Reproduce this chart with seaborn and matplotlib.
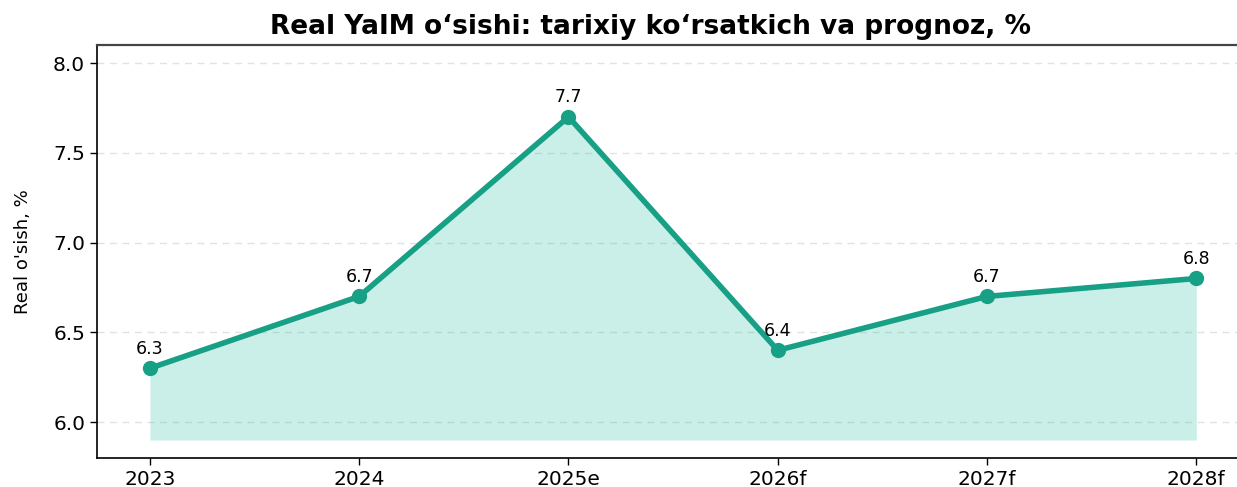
import matplotlib
matplotlib.use("Agg")
import matplotlib.pyplot as plt
import seaborn as sns
import pandas as pd

categories = ["2023", "2024", "2025e", "2026f", "2027f", "2028f"]
growth = [6.3, 6.7, 7.7, 6.4, 6.7, 6.8]
fill_base = 5.9

plt.rcdefaults()
plt.rcParams["font.family"] = ["DejaVu Sans"]

df = pd.DataFrame({"pos": range(len(categories)), "growth": growth})

fig = plt.figure(figsize=(12.37, 4.87), dpi=100)
ax = fig.add_axes([0.0784, 0.0595, 0.931, 0.848])

line_color = "#17a085"
ax.fill_between(df["pos"], fill_base, df["growth"], color="#1abc9c", alpha=0.23, linewidth=0)
sns.lineplot(data=df, x="pos", y="growth", ax=ax, color=line_color, linewidth=4,
             marker="o", markersize=11, markeredgewidth=0)

for x, y in zip(df["pos"], df["growth"]):
    ax.annotate(f"{y:.1f}", (x, y), xytext=(0, 7.5), textcoords="offset points",
                ha="center", va="bottom", fontsize=12.5, color="black")

ax.set_xlim(-0.253, 5.25)
ax.set_ylim(5.8, 8.1)
ax.set_xticks(df["pos"])
ax.set_xticklabels(categories, fontsize=14.5)
ax.set_yticks([6.0, 6.5, 7.0, 7.5, 8.0])
ax.set_yticklabels(["6.0", "6.5", "7.0", "7.5", "8.0"], fontsize=14.5)
ax.set_xlabel("")
ax.set_ylabel("Real o'sish, %", fontsize=13)
ax.yaxis.set_label_coords(-0.056, 0.5)
ax.yaxis.grid(True, linestyle=(0, (5, 4)), color="#e2e2e2", linewidth=1)
ax.set_axisbelow(True)
for s in ax.spines.values():
    s.set_color("black")
    s.set_linewidth(1.2)
ax.spines["top"].set_color("#444444")
ax.spines["top"].set_linewidth(1.6)
ax.tick_params(axis="both", length=5, width=1, color="black")

ax.set_title("Real YaIM o‘sishi: tarixiy ko‘rsatkich va prognoz, %", fontsize=19,
             fontweight="bold", pad=8, x=0.481)

fig.savefig("out.png", dpi=100)
